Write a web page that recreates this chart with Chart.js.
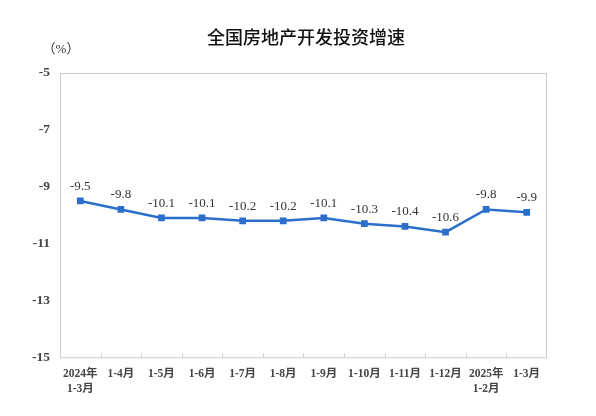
<!DOCTYPE html>
<html>
<head>
<meta charset="utf-8">
<script src="https://cdn.jsdelivr.net/npm/chart.js@4/dist/chart.umd.min.js"></script>
<style>
  html, body { margin: 0; padding: 0; background: #fff; }
  #wrap { width: 596px; height: 416px; }
</style>
</head>
<body>
<div id="wrap"><canvas id="c" width="596" height="416"></canvas></div>
<script>
const months = [['2024年', '1-3月'], '1-4月', '1-5月', '1-6月', '1-7月', '1-8月', '1-9月', '1-10月', '1-11月', '1-12月', ['2025年', '1-2月'], '1-3月'];
const growth = [-9.5, -9.8, -10.1, -10.1, -10.2, -10.2, -10.1, -10.3, -10.4, -10.6, -9.8, -9.9];
const yTicks = [-5, -7, -9, -11, -13, -15];

const serif = "'Liberation Serif', 'Noto Sans CJK SC', serif";
const lineBlue = '#2b6fcb';
const axisGray = '#cccccc';

// title, frame, inner tick marks, unit label and point labels
const decor = {
  id: 'decor',
  afterDatasetsDraw(chart) {
    const ctx = chart.ctx;
    const a = chart.chartArea;
    const x = chart.scales.x;
    ctx.save();
    ctx.fillStyle = '#111';
    ctx.font = "500 18px 'Noto Sans CJK SC', sans-serif";
    ctx.textAlign = 'center';
    ctx.textBaseline = 'middle';
    ctx.fillText('全国房地产开发投资增速', chart.width / 2 + 8, 37);

    ctx.strokeStyle = axisGray;
    ctx.lineWidth = 1;
    ctx.strokeRect(a.left + 0.5, a.top + 0.5, a.right - a.left - 1, a.bottom - a.top);
    const step = (a.right - a.left) / months.length;
    ctx.beginPath();
    for (let i = 1; i < months.length; i++) {
      const px = Math.round(x.getPixelForValue(i) - step / 2) + 0.5;
      ctx.moveTo(px, a.bottom);
      ctx.lineTo(px, a.bottom - 4);
    }
    ctx.stroke();

    ctx.fillStyle = '#333';
    ctx.font = "13px " + serif;
    ctx.fillText('（%）', a.left + 1, a.top - 23);

    const meta = chart.getDatasetMeta(0);
    ctx.font = "13px " + serif;
    ctx.textBaseline = 'bottom';
    meta.data.forEach((pt, i) => {
      ctx.fillText(growth[i].toFixed(1), pt.x, pt.y - 8);
    });
    ctx.restore();
  }
};

new Chart(document.getElementById('c'), {
  type: 'line',
  data: {
    labels: months,
    datasets: [{
      data: growth,
      borderColor: lineBlue,
      backgroundColor: lineBlue,
      borderWidth: 2.5,
      pointStyle: 'rect',
      pointRadius: 3,
      pointHoverRadius: 3,
      tension: 0
    }]
  },
  options: {
    responsive: false,
    animation: false,
    layout: { padding: { top: 73, right: 49, bottom: 18, left: 0 } },
    plugins: {
      legend: { display: false },
      tooltip: { enabled: false },
      title: { display: false }
    },
    scales: {
      x: {
        offset: true,
        grid: { display: false, offset: true },
        border: { display: false },
        ticks: {
          color: '#444',
          font: { family: serif, size: 11.5, weight: 'bold', lineHeight: 1.25 },
          maxRotation: 0,
          autoSkip: false,
          padding: 2
        }
      },
      y: {
        min: -15,
        max: -5,
        afterBuildTicks(scale) { scale.ticks = yTicks.map(v => ({ value: v })); },
        afterFit(scale) { scale.width = 60; },
        grid: { display: false, drawTicks: false },
        border: { display: false },
        ticks: {
          color: '#444',
          font: { family: serif, size: 13.5, weight: 'bold' },
          padding: 10
        }
      }
    }
  },
  plugins: [decor]
});
</script>
</body>
</html>
